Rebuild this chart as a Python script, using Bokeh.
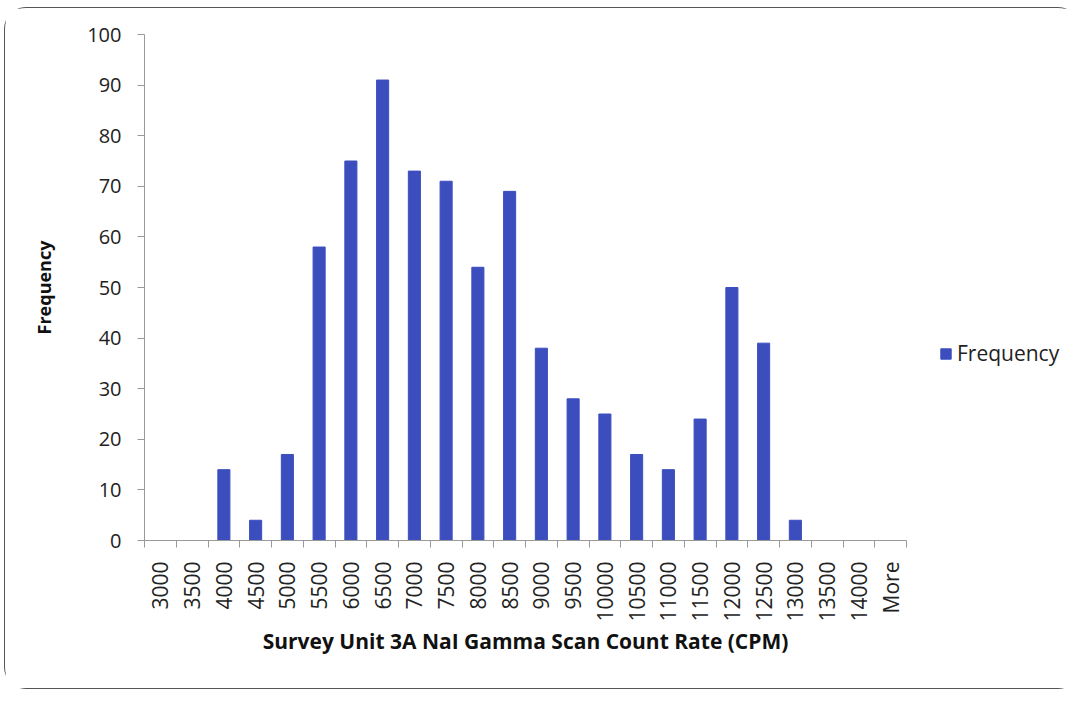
import math
from bokeh.plotting import figure
from bokeh.models import ColumnDataSource, Range1d, FixedTicker, Legend, LegendItem
from bokeh.embed import file_html
from bokeh.resources import INLINE

categories = ["3000", "3500", "4000", "4500", "5000", "5500", "6000", "6500",
              "7000", "7500", "8000", "8500", "9000", "9500", "10000", "10500",
              "11000", "11500", "12000", "12500", "13000", "13500", "14000", "More"]
frequency = [0, 0, 14, 4, 17, 58, 75, 91, 73, 71, 54, 69, 38, 28, 25, 17,
             14, 24, 50, 39, 4, 0, 0, 0]
y_ticks = [0, 10, 20, 30, 40, 50, 60, 70, 80, 90, 100]

FONT = "Open Sans"
BAR = "#3C4EBE"

centers = [i + 0.5 for i in range(len(categories))]
src = ColumnDataSource(dict(x=centers, top=frequency, cat=categories))

p = figure(frame_width=762, frame_height=506, output_backend="svg", toolbar_location=None,
           x_range=Range1d(0, len(categories)), y_range=Range1d(0, 100),
           min_border_left=139, min_border_top=26, min_border_bottom=148,
           min_border_right=173)
p.styles = {"margin": "7px 0 0 4px", "border": "1.5px solid #555",
            "border-radius": "22px", "box-sizing": "border-box",
            "width": "1076px", "height": "682px"}
p.outline_line_color = None
p.xgrid.visible = False
p.ygrid.visible = False
p.background_fill_color = "white"

r = p.vbar(x="x", top="top", width=0.38, source=src, fill_color=BAR, line_color=BAR)

# x axis: labels at centers, tick marks at category boundaries
xt = FixedTicker(ticks=centers, minor_ticks=list(range(len(categories) + 1)))
p.xaxis.ticker = xt
p.xaxis.major_label_overrides = {c: lab for c, lab in zip(centers, categories)}
p.xaxis.major_label_orientation = math.pi / 2
p.xaxis.major_tick_line_color = None
p.xaxis.minor_tick_line_color = "#999999"
p.xaxis.minor_tick_out = 7
p.xaxis.minor_tick_in = 0
p.xaxis.axis_line_color = "#999999"
p.xaxis.major_label_text_font = FONT
p.xaxis.major_label_text_font_size = "21px"
p.xaxis.major_label_text_color = "#222222"
p.xaxis.major_label_standoff = 14
p.xaxis.axis_label = "Survey Unit 3A NaI Gamma Scan Count Rate (CPM)"
p.xaxis.axis_label_text_font = FONT
p.xaxis.axis_label_text_font_style = "bold"
p.xaxis.axis_label_text_font_size = "21px"
p.xaxis.axis_label_text_color = "#111111"
p.xaxis.axis_label_standoff = 2

p.yaxis.ticker = FixedTicker(ticks=y_ticks)
p.yaxis.minor_tick_line_color = None
p.yaxis.major_tick_out = 7
p.yaxis.major_tick_in = 0
p.yaxis.major_tick_line_color = "#999999"
p.yaxis.axis_line_color = "#999999"
p.yaxis.major_label_text_font = FONT
p.yaxis.major_label_text_font_size = "20px"
p.yaxis.major_label_text_color = "#222222"
p.yaxis.major_label_standoff = 16
p.yaxis.axis_label = "Frequency"
p.yaxis.axis_label_text_font = FONT
p.yaxis.axis_label_text_font_style = "bold"
p.yaxis.axis_label_text_font_size = "18px"
p.yaxis.axis_label_text_color = "#111111"
p.yaxis.axis_label_standoff = 28

legend = Legend(items=[LegendItem(label="Frequency", renderers=[r])],
                location=(33, 173), border_line_color=None,
                background_fill_alpha=0, label_text_font=FONT,
                label_text_font_size="21px", label_text_color="#222222",
                glyph_width=13, glyph_height=13, label_standoff=5, padding=0,
                margin=0)
p.add_layout(legend, "right")

open("out.html", "w").write(file_html(p, INLINE))
